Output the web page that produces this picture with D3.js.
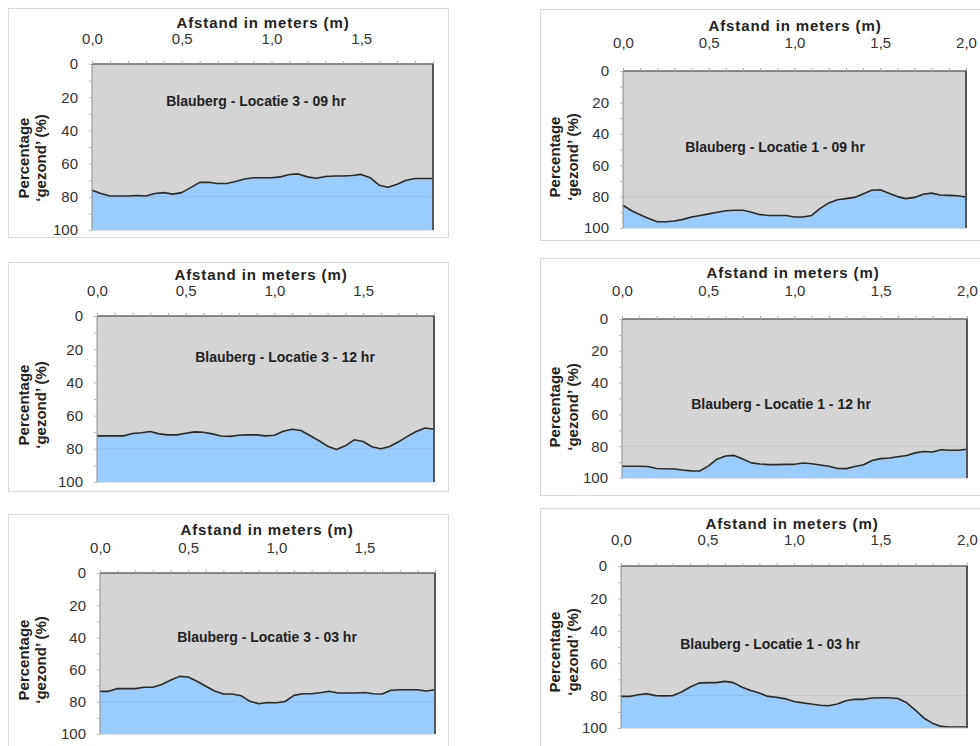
<!DOCTYPE html>
<html>
<head>
<meta charset="utf-8">
<script src="https://cdnjs.cloudflare.com/ajax/libs/d3/7.8.5/d3.min.js"></script>
<style>
body{margin:0;background:#fff;}
svg{display:block;font-family:"Liberation Sans",Arial,sans-serif;}
</style>
</head>
<body>
<svg id="svg" width="980" height="746"></svg>
<script>
// afstand (m) - linker grafieken lopen tot 1,9 m, rechter tot 2,0 m
var afstandLinks=[0,0.05,0.1,0.15,0.2,0.25,0.3,0.35,0.4,0.45,0.5,0.55,0.6,0.65,0.7,0.75,0.8,0.85,0.9,0.95,
  1,1.05,1.1,1.15,1.2,1.25,1.3,1.35,1.4,1.45,1.5,1.55,1.6,1.65,1.7,1.75,1.8,1.85,1.9];
var afstandRechts=[0,0.05,0.1,0.15,0.2,0.25,0.3,0.35,0.4,0.45,0.5,0.55,0.6,0.65,0.7,0.75,0.8,0.85,0.9,0.95,
  1,1.05,1.1,1.15,1.2,1.25,1.3,1.35,1.4,1.45,1.5,1.55,1.6,1.65,1.7,1.75,1.8,1.85,1.9,1.95,2];

// percentage 'gezond'
var loc3_09=[76,78,79.5,79.5,79.5,79.2,79.5,78,77.5,78.4,77.5,74.5,71.3,71.2,72,72,70.8,69.3,68.5,68.5,
  68.5,68,66.6,66.2,68,68.8,67.8,67.5,67.5,67.2,66.5,68.5,73,74.2,72.5,70,69,69,69];
var loc3_12=[72.2,72.2,72.2,72.2,70.8,70.3,69.6,71,71.6,71.6,70.6,69.8,70,71,72.3,72.5,71.8,71.6,71.6,72.2,
  71.8,69.4,68.2,69,72,75,78.4,80.4,78.2,74.6,75.6,78.8,80,78.6,75.8,72.5,69.6,67.5,68.2];
var loc3_03=[73.5,73.5,71.8,71.8,71.8,71,71,69.2,66.6,64.2,64.6,67.2,70.3,73.3,75.2,75.2,76.2,79.7,81.2,80.4,
  80.6,79.8,76,75,75,74.4,73.5,74.5,74.5,74.5,74.2,75,75.2,72.8,72.5,72.5,72.5,73.3,72.5];
var loc1_09=[85.5,89,91.5,94,96,96,95.5,94.5,93,92,91,90,89,88.7,88.7,90,91.5,92,92,92,
  93,93,92,87.5,84,82,81.3,80.5,78.3,76,75.6,77.8,80,81.3,80.5,78.5,77.8,79,79.2,79.5,80.3];
var loc1_12=[92.6,92.6,92.6,92.8,94,94.2,94.3,95,95.5,95.6,92.5,88.2,86.2,85.8,88,90.5,91.2,91.6,91.6,91.4,
  91.4,90.6,91,91.8,92.6,94,94.1,92.8,91.7,89,87.8,87.4,86.6,85.8,84.2,83.3,83.6,82.2,82.5,82.5,81.9];
var loc1_03=[80.5,80.5,79.5,78.8,80,80.2,80,77.8,74.7,72.3,72,72,71.2,72,74.8,76.8,78.4,80.5,81,82,
  83.6,84.5,85.2,86,86.3,85.2,83.2,82.3,82.3,81.5,81.3,81.3,81.8,84.3,88.8,93.8,97,99,99.4,99.4,99.4];

var xTicksLinks=[0,0.5,1,1.5];
var xTicksRechts=[0,0.5,1,1.5,2];
var yTicks=[0,20,40,60,80,100];
var titels=["Blauberg - Locatie 3 - 09 hr","Blauberg - Locatie 1 - 09 hr",
  "Blauberg - Locatie 3 - 12 hr","Blauberg - Locatie 1 - 12 hr",
  "Blauberg - Locatie 3 - 03 hr","Blauberg - Locatie 1 - 03 hr"];

// opmaak per grafiek (positie in px)
var panels=[
  {x:afstandLinks, y:loc3_09, xMax:1.9, xt:xTicksLinks, card:[8,8,448,237], plot:[92,64,433,230],
   axTitle:[263,28], tickPad:20, yLab:[24,41,158], title:[256,101]},
  {x:afstandRechts, y:loc1_09, xMax:2, xt:xTicksRechts, card:[540,9,992,240], plot:[623,71,966,228],
   axTitle:[795,31], tickPad:23, yLab:[555,573,157], title:[775,147]},
  {x:afstandLinks, y:loc3_12, xMax:1.9, xt:xTicksLinks, card:[8,262,448,491], plot:[97,316,434,482],
   axTitle:[261,280], tickPad:20, yLab:[24,41,405], title:[285,357]},
  {x:afstandRechts, y:loc1_12, xMax:2, xt:xTicksRechts, card:[540,258,992,495], plot:[622,319,967,478],
   axTitle:[793,278], tickPad:23, yLab:[555,573,407], title:[781,404]},
  {x:afstandLinks, y:loc3_03, xMax:1.9, xt:xTicksLinks, card:[8,514,448,752], plot:[100,573,435,734],
   axTitle:[267,535], tickPad:20, yLab:[24,41,660], title:[267,637]},
  {x:afstandRechts, y:loc1_03, xMax:2, xt:xTicksRechts, card:[540,508,992,752], plot:[621,566,967,728],
   axTitle:[792,529], tickPad:21, yLab:[555,573,652], title:[770,644]}
];

var svg=d3.select("#svg");
var komma=function(d){return d3.format(".1f")(d).replace(".",",");};

panels.forEach(function(p,i){
  var g=svg.append("g");
  var L=p.plot[0], T=p.plot[1], R=p.plot[2], B=p.plot[3];

  // kaart
  g.append("rect")
    .attr("x",p.card[0]+0.5).attr("y",p.card[1]+0.5)
    .attr("width",p.card[2]-p.card[0]).attr("height",p.card[3]-p.card[1])
    .attr("fill","#fff").attr("stroke","#dadada");

  var xScale=d3.scaleLinear().domain([0,p.xMax]).range([L,R]);
  var yScale=d3.scaleLinear().domain([0,100]).range([T,B]);

  // plot achtergrond
  g.append("rect").attr("x",L).attr("y",T).attr("width",R-L).attr("height",B-T).attr("fill","#d4d4d4");

  var pts=p.x.map(function(d,j){return [d,p.y[j]];});
  var area=d3.area()
    .x(function(d){return xScale(d[0]);})
    .y0(yScale(100))
    .y1(function(d){return yScale(d[1]);});
  g.append("path").datum(pts).attr("d",area).attr("fill","#99ccff");

  // rasterlijn bij 80
  g.append("line").attr("x1",L).attr("x2",R).attr("y1",yScale(80)).attr("y2",yScale(80))
    .attr("stroke","#000").attr("stroke-opacity",0.07);

  var line=d3.line()
    .x(function(d){return xScale(d[0]);})
    .y(function(d){return yScale(d[1]);});
  g.append("path").datum(pts).attr("d",line).attr("fill","none")
    .attr("stroke","#2a2a2a").attr("stroke-width",1.6).attr("stroke-linejoin","round");

  // kaderlijnen
  g.append("line").attr("x1",L).attr("x2",L).attr("y1",T).attr("y2",B).attr("stroke","#8a8a8a");
  g.append("line").attr("x1",L).attr("x2",R).attr("y1",B).attr("y2",B).attr("stroke","#c4c4c4");
  g.append("line").attr("x1",L).attr("x2",R).attr("y1",T).attr("y2",T).attr("stroke","#666").attr("stroke-width",1.5);
  g.append("line").attr("x1",R).attr("x2",R).attr("y1",T).attr("y2",B).attr("stroke","#555").attr("stroke-width",2);

  // kleine streepjes boven en links
  g.append("g").attr("transform","translate(0,"+T+")")
    .call(d3.axisTop(xScale).ticks(p.xMax*10).tickSize(3).tickFormat(""))
    .call(function(a){a.select(".domain").remove();a.selectAll("line").attr("stroke","#aaa");});
  g.append("g").attr("transform","translate("+L+",0)")
    .call(d3.axisLeft(yScale).ticks(10).tickSize(3).tickFormat(""))
    .call(function(a){a.select(".domain").remove();a.selectAll("line").attr("stroke","#bbb");});

  // as labels
  var xAxis=g.append("g").attr("transform","translate(0,"+T+")")
    .call(d3.axisTop(xScale).tickValues(p.xt).tickSize(0).tickPadding(p.tickPad).tickFormat(komma));
  xAxis.select(".domain").remove();
  xAxis.selectAll("text").attr("font-size",15).attr("fill","#333").attr("font-family","Liberation Sans, Arial, sans-serif");

  var yAxis=g.append("g").attr("transform","translate("+L+",0)")
    .call(d3.axisLeft(yScale).tickValues(yTicks).tickSize(0).tickPadding(14));
  yAxis.select(".domain").remove();
  yAxis.selectAll("text").attr("font-size",15).attr("fill","#333").attr("font-family","Liberation Sans, Arial, sans-serif");

  g.append("text").attr("x",p.axTitle[0]).attr("y",p.axTitle[1])
    .attr("text-anchor","middle").attr("font-size",15).attr("font-weight","bold")
    .attr("letter-spacing",0.9).attr("fill","#222").text("Afstand in meters (m)");

  g.append("text").attr("transform","translate("+p.yLab[0]+","+p.yLab[2]+") rotate(-90)")
    .attr("text-anchor","middle").attr("dy","0.35em").attr("font-size",15).attr("font-weight","bold")
    .attr("fill","#222").text("Percentage");
  g.append("text").attr("transform","translate("+p.yLab[1]+","+p.yLab[2]+") rotate(-90)")
    .attr("text-anchor","middle").attr("dy","0.35em").attr("font-size",15).attr("font-weight","bold")
    .attr("fill","#222").text("\u2018gezond\u2019 (%)");

  g.append("text").attr("x",p.title[0]).attr("y",p.title[1]).attr("dy","0.35em")
    .attr("text-anchor","middle").attr("font-size",14).attr("font-weight","bold")
    .attr("fill","#222").text(titels[i]);
});
</script>
</body>
</html>
